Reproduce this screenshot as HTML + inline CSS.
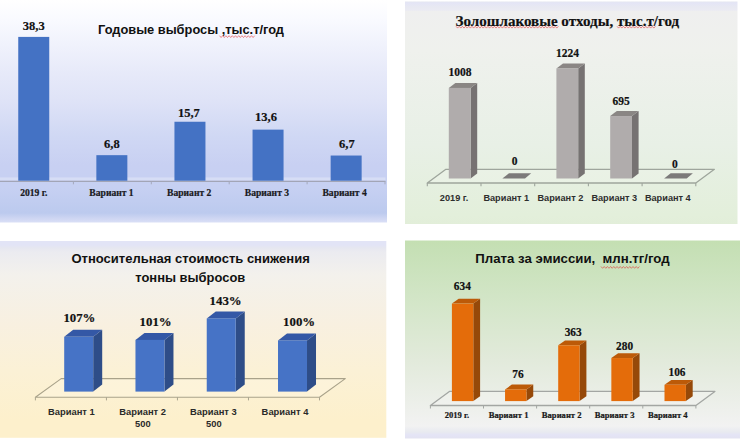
<!DOCTYPE html>
<html lang="ru"><head><meta charset="utf-8"><title>Charts</title>
<style>html,body{margin:0;padding:0;background:#fff;}svg{display:block;}.s{stroke:#111;stroke-width:0.2px;}</style>
</head><body>
<svg width="740" height="440" viewBox="0 0 740 440">
<defs>
<linearGradient id="gTL" gradientUnits="userSpaceOnUse" x1="0" y1="0" x2="0" y2="222.5">
 <stop offset="0.0000" stop-color="#ffffff"/>
 <stop offset="0.0899" stop-color="#f9faff"/>
 <stop offset="0.2022" stop-color="#f0f2fc"/>
 <stop offset="0.3371" stop-color="#e6e9f9"/>
 <stop offset="0.4494" stop-color="#dfe3f7"/>
 <stop offset="0.6067" stop-color="#d0d8f4"/>
 <stop offset="0.7416" stop-color="#c8d0f2"/>
 <stop offset="0.8449" stop-color="#c6d0f2"/>
 <stop offset="0.9573" stop-color="#bccaee"/>
 <stop offset="0.9798" stop-color="#cdd5f2"/>
 <stop offset="1.0000" stop-color="#dadff6"/>
</linearGradient>
<linearGradient id="gTR" gradientUnits="userSpaceOnUse" x1="0" y1="1.5" x2="0" y2="224">
 <stop offset="0.0000" stop-color="#e4e6f0"/>
 <stop offset="0.0067" stop-color="#e4e5f6"/>
 <stop offset="0.0247" stop-color="#e8e9f2"/>
 <stop offset="0.0382" stop-color="#eaeaf3"/>
 <stop offset="0.0449" stop-color="#efefef"/>
 <stop offset="0.2180" stop-color="#eff1ed"/>
 <stop offset="0.6449" stop-color="#e8f0e6"/>
 <stop offset="0.9596" stop-color="#e3efdb"/>
 <stop offset="1.0000" stop-color="#e2eed9"/>
</linearGradient>
<linearGradient id="gBL" gradientUnits="userSpaceOnUse" x1="0" y1="241" x2="0" y2="438">
 <stop offset="0.0000" stop-color="#e2e4f6"/>
 <stop offset="0.0203" stop-color="#e2e4f6"/>
 <stop offset="0.0355" stop-color="#e6e7f0"/>
 <stop offset="0.0558" stop-color="#ebebf0"/>
 <stop offset="0.1726" stop-color="#f3f1ec"/>
 <stop offset="0.4264" stop-color="#f8f0e0"/>
 <stop offset="0.6548" stop-color="#fbf1d6"/>
 <stop offset="0.9086" stop-color="#fdf0cc"/>
 <stop offset="1.0000" stop-color="#fdf0cc"/>
</linearGradient>
<linearGradient id="gBR" gradientUnits="userSpaceOnUse" x1="0" y1="240.5" x2="0" y2="438.5">
 <stop offset="0.0000" stop-color="#c4dfb2"/>
 <stop offset="0.0480" stop-color="#c6e0b6"/>
 <stop offset="0.3258" stop-color="#d4e6c9"/>
 <stop offset="0.6035" stop-color="#e2eadb"/>
 <stop offset="0.8561" stop-color="#eef0ec"/>
 <stop offset="0.9369" stop-color="#f2f2f2"/>
 <stop offset="0.9672" stop-color="#e8eaf0"/>
 <stop offset="0.9823" stop-color="#e4e4f6"/>
 <stop offset="1.0000" stop-color="#e3e3f1"/>
</linearGradient>
</defs>
<rect x="0" y="0" width="740" height="440" fill="#ffffff"/>
<rect x="0" y="0" width="387" height="222.5" fill="url(#gTL)"/>
<rect x="405" y="1.5" width="332.5" height="222.5" fill="url(#gTR)"/>
<rect x="0" y="241" width="386.3" height="196.8" fill="url(#gBL)"/>
<rect x="405" y="240.5" width="335" height="198" fill="url(#gBR)"/>
<rect x="0" y="177.4" width="385.5" height="3.2" fill="#ffffff" fill-opacity="0.28"/>
<line x1="0" y1="181.3" x2="385.5" y2="181.3" stroke="#a2a5b6" stroke-width="1.2"/>
<line x1="73.4" y1="181.3" x2="73.4" y2="184.3" stroke="#a4a8bc" stroke-width="1"/>
<line x1="151.3" y1="181.3" x2="151.3" y2="184.3" stroke="#a4a8bc" stroke-width="1"/>
<line x1="229.2" y1="181.3" x2="229.2" y2="184.3" stroke="#a4a8bc" stroke-width="1"/>
<line x1="307.1" y1="181.3" x2="307.1" y2="184.3" stroke="#a4a8bc" stroke-width="1"/>
<line x1="385" y1="181.3" x2="385" y2="184.3" stroke="#a4a8bc" stroke-width="1"/>
<rect x="18.25" y="36.9" width="31" height="143.8" fill="#4472c4"/>
<text class="s" x="33.8" y="196" font-family="'Liberation Serif', 'Times New Roman', serif" font-size="9.6" font-weight="bold" fill="#1a1a22" text-anchor="middle">2019 г.</text>
<rect x="96.35" y="155.17" width="31" height="25.53" fill="#4472c4"/>
<text class="s" x="111.5" y="196" font-family="'Liberation Serif', 'Times New Roman', serif" font-size="9.6" font-weight="bold" fill="#1a1a22" text-anchor="middle">Вариант 1</text>
<rect x="174.45" y="121.75" width="31" height="58.95" fill="#4472c4"/>
<text class="s" x="189.2" y="196" font-family="'Liberation Serif', 'Times New Roman', serif" font-size="9.6" font-weight="bold" fill="#1a1a22" text-anchor="middle">Вариант 2</text>
<rect x="252.55" y="129.64" width="31" height="51.06" fill="#4472c4"/>
<text class="s" x="266.9" y="196" font-family="'Liberation Serif', 'Times New Roman', serif" font-size="9.6" font-weight="bold" fill="#1a1a22" text-anchor="middle">Вариант 3</text>
<rect x="330.65" y="155.54" width="31" height="25.16" fill="#4472c4"/>
<text class="s" x="344.6" y="196" font-family="'Liberation Serif', 'Times New Roman', serif" font-size="9.6" font-weight="bold" fill="#1a1a22" text-anchor="middle">Вариант 4</text>
<text class="s" x="33.8" y="29.7" font-family="'Liberation Serif', 'Times New Roman', serif" font-size="12.5" font-weight="bold" fill="#111" text-anchor="middle">38,3</text>
<text class="s" x="111.9" y="148.3" font-family="'Liberation Serif', 'Times New Roman', serif" font-size="12.5" font-weight="bold" fill="#111" text-anchor="middle">6,8</text>
<text class="s" x="188.9" y="116.7" font-family="'Liberation Serif', 'Times New Roman', serif" font-size="12.5" font-weight="bold" fill="#111" text-anchor="middle">15,7</text>
<text class="s" x="266" y="120.7" font-family="'Liberation Serif', 'Times New Roman', serif" font-size="12.5" font-weight="bold" fill="#111" text-anchor="middle">13,6</text>
<text class="s" x="346.9" y="147.9" font-family="'Liberation Serif', 'Times New Roman', serif" font-size="12.5" font-weight="bold" fill="#111" text-anchor="middle">6,7</text>
<text x="191" y="34.3" font-family="'Liberation Sans', Arial, sans-serif" font-size="13.2" font-weight="bold" fill="#111" text-anchor="middle" textLength="186" lengthAdjust="spacingAndGlyphs">Годовые выбросы ,тыс.т/год</text>
<polyline points="219.5,35.7 221.1,37.5 222.7,35.7 224.3,37.5 225.9,35.7 227.5,37.5 229.1,35.7 230.7,37.5 232.3,35.7 233.9,37.5 235.5,35.7 237.1,37.5 238.7,35.7 240.3,37.5 241.9,35.7 243.5,37.5 245.1,35.7 246.7,37.5 248.3,35.7 249.9,37.5 251.5,35.7 253.1,37.5 254.7,35.7" fill="none" stroke="#e03030" stroke-width="0.7" opacity="0.8"/>
<polygon points="427.3,183 445.9,169.3 714.4,169.3 695.8,183" fill="#eef3ea" fill-opacity="0.5" stroke="#9ea59c" stroke-width="1.3" stroke-linejoin="round"/>
<line x1="427.3" y1="183" x2="427.3" y2="186.2" stroke="#9ea59c" stroke-width="1.1"/>
<line x1="481" y1="183" x2="481" y2="186.2" stroke="#9ea59c" stroke-width="1.1"/>
<line x1="534.7" y1="183" x2="534.7" y2="186.2" stroke="#9ea59c" stroke-width="1.1"/>
<line x1="588.4" y1="183" x2="588.4" y2="186.2" stroke="#9ea59c" stroke-width="1.1"/>
<line x1="642.1" y1="183" x2="642.1" y2="186.2" stroke="#9ea59c" stroke-width="1.1"/>
<line x1="695.8" y1="183" x2="695.8" y2="186.2" stroke="#9ea59c" stroke-width="1.1"/>
<polygon points="470.6,87.9 477.2,82.9 477.2,173.5 470.6,178.5" fill="#767272"/>
<polygon points="448.8,87.9 455.4,82.9 477.2,82.9 470.6,87.9" fill="#8a8684"/>
<rect x="448.8" y="87.9" width="21.8" height="90.6" fill="#b0acac"/>
<polygon points="502.4,178.6 509,173.2 531.2,173.2 525,178.6" fill="#7c7a7a"/>
<polygon points="578.2,68.49 584.8,63.49 584.8,173.5 578.2,178.5" fill="#767272"/>
<polygon points="556.4,68.49 563,63.49 584.8,63.49 578.2,68.49" fill="#8a8684"/>
<rect x="556.4" y="68.49" width="21.8" height="110.01" fill="#b0acac"/>
<polygon points="632,116.03 638.6,111.03 638.6,173.5 632,178.5" fill="#767272"/>
<polygon points="610.2,116.03 616.8,111.03 638.6,111.03 632,116.03" fill="#8a8684"/>
<rect x="610.2" y="116.03" width="21.8" height="62.47" fill="#b0acac"/>
<polygon points="664.1,178.6 670.7,173.2 692.9,173.2 686.7,178.6" fill="#7c7a7a"/>
<text class="s" x="460" y="76.4" font-family="'Liberation Serif', 'Times New Roman', serif" font-size="11.5" font-weight="bold" fill="#111" text-anchor="middle">1008</text>
<text class="s" x="514.6" y="164.7" font-family="'Liberation Serif', 'Times New Roman', serif" font-size="11.5" font-weight="bold" fill="#111" text-anchor="middle">0</text>
<text class="s" x="567.5" y="56.9" font-family="'Liberation Serif', 'Times New Roman', serif" font-size="11.5" font-weight="bold" fill="#111" text-anchor="middle">1224</text>
<text class="s" x="621.2" y="104.6" font-family="'Liberation Serif', 'Times New Roman', serif" font-size="11.5" font-weight="bold" fill="#111" text-anchor="middle">695</text>
<text class="s" x="674.8" y="167.7" font-family="'Liberation Serif', 'Times New Roman', serif" font-size="11.5" font-weight="bold" fill="#111" text-anchor="middle">0</text>
<text x="454.1" y="200.6" font-family="'Liberation Sans', Arial, sans-serif" font-size="9.2" font-weight="bold" fill="#2e2e2e" text-anchor="middle">2019 г.</text>
<text x="506.3" y="200.6" font-family="'Liberation Sans', Arial, sans-serif" font-size="9.2" font-weight="bold" fill="#2e2e2e" text-anchor="middle">Вариант 1</text>
<text x="560.4" y="200.6" font-family="'Liberation Sans', Arial, sans-serif" font-size="9.2" font-weight="bold" fill="#2e2e2e" text-anchor="middle">Вариант 2</text>
<text x="614.3" y="200.6" font-family="'Liberation Sans', Arial, sans-serif" font-size="9.2" font-weight="bold" fill="#2e2e2e" text-anchor="middle">Вариант 3</text>
<text x="667.8" y="200.6" font-family="'Liberation Sans', Arial, sans-serif" font-size="9.2" font-weight="bold" fill="#2e2e2e" text-anchor="middle">Вариант 4</text>
<text class="s" x="567.4" y="25.8" font-family="'Liberation Serif', 'Times New Roman', serif" font-size="15" font-weight="bold" fill="#111" text-anchor="middle" textLength="223.6" lengthAdjust="spacingAndGlyphs">Золошлаковые отходы, тыс.т/год</text>
<polyline points="456,26.3 457.6,28.1 459.2,26.3 460.8,28.1 462.4,26.3 464,28.1 465.6,26.3 467.2,28.1 468.8,26.3 470.4,28.1 472,26.3 473.6,28.1 475.2,26.3 476.8,28.1 478.4,26.3 480,28.1 481.6,26.3 483.2,28.1 484.8,26.3 486.4,28.1 488,26.3 489.6,28.1 491.2,26.3 492.8,28.1 494.4,26.3 496,28.1 497.6,26.3 499.2,28.1 500.8,26.3 502.4,28.1 504,26.3 505.6,28.1 507.2,26.3 508.8,28.1 510.4,26.3 512,28.1 513.6,26.3 515.2,28.1 516.8,26.3 518.4,28.1 520,26.3 521.6,28.1 523.2,26.3 524.8,28.1 526.4,26.3 528,28.1 529.6,26.3 531.2,28.1 532.8,26.3 534.4,28.1 536,26.3 537.6,28.1 539.2,26.3 540.8,28.1 542.4,26.3 544,28.1 545.6,26.3 547.2,28.1 548.8,26.3 550.4,28.1 552,26.3 553.6,28.1 555.2,26.3 556.8,28.1 558.4,26.3" fill="none" stroke="#e03030" stroke-width="0.7" opacity="0.8"/>
<polyline points="617,26.3 618.6,28.1 620.2,26.3 621.8,28.1 623.4,26.3 625,28.1 626.6,26.3 628.2,28.1 629.8,26.3 631.4,28.1 633,26.3 634.6,28.1 636.2,26.3 637.8,28.1 639.4,26.3 641,28.1 642.6,26.3 644.2,28.1 645.8,26.3 647.4,28.1 649,26.3 650.6,28.1 652.2,26.3 653.8,28.1 655.4,26.3" fill="none" stroke="#e03030" stroke-width="0.7" opacity="0.8"/>
<polygon points="35.4,397.2 61.2,378.6 345.3,378.6 319.5,397.2" fill="#fff8e4" fill-opacity="0.4" stroke="#a9a28a" stroke-width="1.1" stroke-linejoin="round"/>
<line x1="35.4" y1="397.2" x2="35.4" y2="400.4" stroke="#aba58f" stroke-width="1"/>
<line x1="106.43" y1="397.2" x2="106.43" y2="400.4" stroke="#aba58f" stroke-width="1"/>
<line x1="177.45" y1="397.2" x2="177.45" y2="400.4" stroke="#aba58f" stroke-width="1"/>
<line x1="248.48" y1="397.2" x2="248.48" y2="400.4" stroke="#aba58f" stroke-width="1"/>
<line x1="319.5" y1="397.2" x2="319.5" y2="400.4" stroke="#aba58f" stroke-width="1"/>
<polygon points="93.2,336.82 102.2,329.82 102.2,384.6 93.2,391.6" fill="#2e4d88"/>
<polygon points="64.2,336.82 73.2,329.82 102.2,329.82 93.2,336.82" fill="#3458a6"/>
<rect x="64.2" y="336.82" width="29" height="54.78" fill="#4673c6"/>
<polygon points="164.47,339.89 173.47,332.89 173.47,384.6 164.47,391.6" fill="#2e4d88"/>
<polygon points="135.47,339.89 144.47,332.89 173.47,332.89 164.47,339.89" fill="#3458a6"/>
<rect x="135.47" y="339.89" width="29" height="51.71" fill="#4673c6"/>
<polygon points="235.74,318.38 244.74,311.38 244.74,384.6 235.74,391.6" fill="#2e4d88"/>
<polygon points="206.74,318.38 215.74,311.38 244.74,311.38 235.74,318.38" fill="#3458a6"/>
<rect x="206.74" y="318.38" width="29" height="73.22" fill="#4673c6"/>
<polygon points="307.01,340.4 316.01,333.4 316.01,384.6 307.01,391.6" fill="#2e4d88"/>
<polygon points="278.01,340.4 287.01,333.4 316.01,333.4 307.01,340.4" fill="#3458a6"/>
<rect x="278.01" y="340.4" width="29" height="51.2" fill="#4673c6"/>
<text class="s" x="79.4" y="321.9" font-family="'Liberation Serif', 'Times New Roman', serif" font-size="12.8" font-weight="bold" fill="#111" text-anchor="middle">107%</text>
<text class="s" x="155.6" y="325.9" font-family="'Liberation Serif', 'Times New Roman', serif" font-size="12.8" font-weight="bold" fill="#111" text-anchor="middle">101%</text>
<text class="s" x="225.6" y="305" font-family="'Liberation Serif', 'Times New Roman', serif" font-size="12.8" font-weight="bold" fill="#111" text-anchor="middle">143%</text>
<text class="s" x="299.1" y="326.3" font-family="'Liberation Serif', 'Times New Roman', serif" font-size="12.8" font-weight="bold" fill="#111" text-anchor="middle">100%</text>
<text x="71.4" y="414.9" font-family="'Liberation Sans', Arial, sans-serif" font-size="9.4" font-weight="bold" fill="#2a2a2a" text-anchor="middle">Вариант 1</text>
<text x="142.6" y="414.9" font-family="'Liberation Sans', Arial, sans-serif" font-size="9.4" font-weight="bold" fill="#2a2a2a" text-anchor="middle">Вариант 2</text>
<text x="213.4" y="414.9" font-family="'Liberation Sans', Arial, sans-serif" font-size="9.4" font-weight="bold" fill="#2a2a2a" text-anchor="middle">Вариант 3</text>
<text x="285" y="414.9" font-family="'Liberation Sans', Arial, sans-serif" font-size="9.4" font-weight="bold" fill="#2a2a2a" text-anchor="middle">Вариант 4</text>
<text x="142.8" y="427.2" font-family="'Liberation Sans', Arial, sans-serif" font-size="9.4" font-weight="bold" fill="#2a2a2a" text-anchor="middle" textLength="15.6" lengthAdjust="spacingAndGlyphs">500</text>
<text x="213.8" y="427.2" font-family="'Liberation Sans', Arial, sans-serif" font-size="9.4" font-weight="bold" fill="#2a2a2a" text-anchor="middle" textLength="15.6" lengthAdjust="spacingAndGlyphs">500</text>
<text x="190.6" y="263.4" font-family="'Liberation Sans', Arial, sans-serif" font-size="13.2" font-weight="bold" fill="#111" text-anchor="middle" textLength="238.3" lengthAdjust="spacingAndGlyphs">Относительная стоимость снижения</text>
<text x="190.3" y="281.8" font-family="'Liberation Sans', Arial, sans-serif" font-size="13.2" font-weight="bold" fill="#111" text-anchor="middle" textLength="110" lengthAdjust="spacingAndGlyphs">тонны выбросов</text>
<polygon points="430.4,405.5 449.4,391.4 714.9,391.4 695.9,405.5" fill="#f4f6f2" fill-opacity="0.4" stroke="#a3a6a3" stroke-width="1.3" stroke-linejoin="round"/>
<line x1="430.4" y1="405.5" x2="430.4" y2="408.5" stroke="#a3a6a3" stroke-width="1"/>
<line x1="483.5" y1="405.5" x2="483.5" y2="408.5" stroke="#a3a6a3" stroke-width="1"/>
<line x1="536.6" y1="405.5" x2="536.6" y2="408.5" stroke="#a3a6a3" stroke-width="1"/>
<line x1="589.7" y1="405.5" x2="589.7" y2="408.5" stroke="#a3a6a3" stroke-width="1"/>
<line x1="642.8" y1="405.5" x2="642.8" y2="408.5" stroke="#a3a6a3" stroke-width="1"/>
<line x1="695.9" y1="405.5" x2="695.9" y2="408.5" stroke="#a3a6a3" stroke-width="1"/>
<polygon points="473.3,303.6 480.1,298.8 480.1,396.3 473.3,401.1" fill="#964909"/>
<polygon points="451.9,303.6 458.7,298.8 480.1,298.8 473.3,303.6" fill="#bc5a08"/>
<rect x="451.9" y="303.6" width="21.4" height="97.5" fill="#e46c0a"/>
<polygon points="526.45,389.41 533.25,384.61 533.25,396.3 526.45,401.1" fill="#964909"/>
<polygon points="505.05,389.41 511.85,384.61 533.25,384.61 526.45,389.41" fill="#bc5a08"/>
<rect x="505.05" y="389.41" width="21.4" height="11.69" fill="#e46c0a"/>
<polygon points="579.6,345.28 586.4,340.48 586.4,396.3 579.6,401.1" fill="#964909"/>
<polygon points="558.2,345.28 565,340.48 586.4,340.48 579.6,345.28" fill="#bc5a08"/>
<rect x="558.2" y="345.28" width="21.4" height="55.82" fill="#e46c0a"/>
<polygon points="632.75,358.04 639.55,353.24 639.55,396.3 632.75,401.1" fill="#964909"/>
<polygon points="611.35,358.04 618.15,353.24 639.55,353.24 632.75,358.04" fill="#bc5a08"/>
<rect x="611.35" y="358.04" width="21.4" height="43.06" fill="#e46c0a"/>
<polygon points="685.9,384.8 692.7,380 692.7,396.3 685.9,401.1" fill="#964909"/>
<polygon points="664.5,384.8 671.3,380 692.7,380 685.9,384.8" fill="#bc5a08"/>
<rect x="664.5" y="384.8" width="21.4" height="16.3" fill="#e46c0a"/>
<text class="s" x="462.3" y="289.7" font-family="'Liberation Serif', 'Times New Roman', serif" font-size="12.2" font-weight="bold" fill="#111" text-anchor="middle" textLength="17" lengthAdjust="spacingAndGlyphs">634</text>
<text class="s" x="518" y="377.8" font-family="'Liberation Serif', 'Times New Roman', serif" font-size="12.2" font-weight="bold" fill="#111" text-anchor="middle" textLength="11.4" lengthAdjust="spacingAndGlyphs">76</text>
<text class="s" x="573.2" y="335.9" font-family="'Liberation Serif', 'Times New Roman', serif" font-size="12.2" font-weight="bold" fill="#111" text-anchor="middle" textLength="17" lengthAdjust="spacingAndGlyphs">363</text>
<text class="s" x="624.6" y="349.8" font-family="'Liberation Serif', 'Times New Roman', serif" font-size="12.2" font-weight="bold" fill="#111" text-anchor="middle" textLength="17" lengthAdjust="spacingAndGlyphs">280</text>
<text class="s" x="677" y="375.9" font-family="'Liberation Serif', 'Times New Roman', serif" font-size="12.2" font-weight="bold" fill="#111" text-anchor="middle" textLength="17" lengthAdjust="spacingAndGlyphs">106</text>
<text class="s" x="456.9" y="417.7" font-family="'Liberation Serif', 'Times New Roman', serif" font-size="8.6" font-weight="bold" fill="#1a1a1a" text-anchor="middle">2019 г.</text>
<text class="s" x="508.6" y="417.7" font-family="'Liberation Serif', 'Times New Roman', serif" font-size="8.6" font-weight="bold" fill="#1a1a1a" text-anchor="middle">Вариант 1</text>
<text class="s" x="561.7" y="417.7" font-family="'Liberation Serif', 'Times New Roman', serif" font-size="8.6" font-weight="bold" fill="#1a1a1a" text-anchor="middle">Вариант 2</text>
<text class="s" x="614.6" y="417.7" font-family="'Liberation Serif', 'Times New Roman', serif" font-size="8.6" font-weight="bold" fill="#1a1a1a" text-anchor="middle">Вариант 3</text>
<text class="s" x="667.8" y="417.7" font-family="'Liberation Serif', 'Times New Roman', serif" font-size="8.6" font-weight="bold" fill="#1a1a1a" text-anchor="middle">Вариант 4</text>
<text x="572.5" y="263.1" font-family="'Liberation Sans', Arial, sans-serif" font-size="13.4" font-weight="bold" fill="#111" text-anchor="middle" textLength="194.3" lengthAdjust="spacingAndGlyphs" xml:space="preserve">Плата за эмиссии,  млн.тг/год</text>
<polyline points="601,266.5 602.6,268.3 604.2,266.5 605.8,268.3 607.4,266.5 609,268.3 610.6,266.5 612.2,268.3 613.8,266.5 615.4,268.3 617,266.5 618.6,268.3 620.2,266.5 621.8,268.3 623.4,266.5 625,268.3 626.6,266.5 628.2,268.3 629.8,266.5 631.4,268.3 633,266.5 634.6,268.3 636.2,266.5 637.8,268.3 639.4,266.5" fill="none" stroke="#e03030" stroke-width="0.7" opacity="0.8"/>
</svg>
</body></html>
